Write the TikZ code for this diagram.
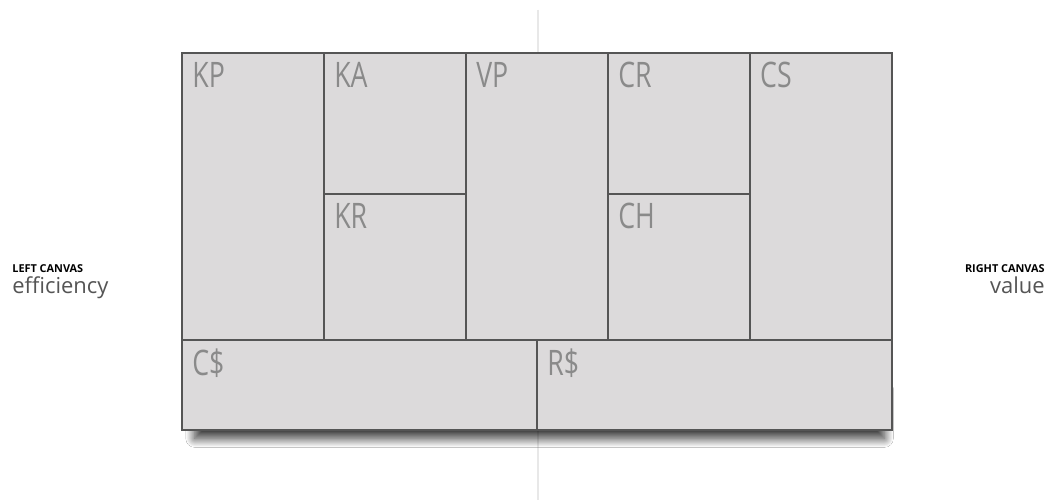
\documentclass[tikz,border=0pt]{standalone}
\usepackage{fontspec}
\setmainfont{Open Sans}
\newfontfamily\tagfont[FakeStretch=0.76]{Open Sans}
\usetikzlibrary{positioning,shadows.blur}
\definecolor{CellFill}  {HTML}{DCDADB}
\definecolor{CellLine}  {HTML}{555555}
\definecolor{TagText}   {HTML}{8A8A8A}
\definecolor{GuideLine} {HTML}{E8E8E8}
\definecolor{SideText}  {HTML}{555555}

\begin{document}
\begin{tikzpicture}[x=0.02cm,y=-0.02cm,
  cell/.style={draw=CellLine,fill=CellFill,line width=1.1pt,inner sep=0pt,
               outer sep=0pt,minimum width=2.84cm},
  tall/.style={cell,minimum height=5.74cm},
  upper/.style={cell,minimum height=2.82cm},
  lower/.style={cell,minimum height=2.92cm},
  base/.style={cell,minimum width=7.1cm,minimum height=1.8cm},
  tag/.style={anchor=north west,inner sep=0pt,text=TagText,
              font=\tagfont\fontsize{20}{20}\selectfont},
  heading/.style={inner sep=0pt,font=\bfseries\fontsize{6.2}{7}\selectfont},
  sub/.style={inner sep=0pt,text=SideText,font=\fontsize{12.5}{13}\selectfont},
  guide/.style={draw=GuideLine,line width=0.6pt}
]
  \fill[white] (0,0) rectangle (1049,503);
  \useasboundingbox (0,0) rectangle (1049,503);

  % guide line through the middle
  \coordinate (guidetop) at (538,10);
  \coordinate (guidebot) at (538,500);
  \draw[guide] (guidetop) -- (guidebot);

  % shadow under the canvas
  \node[inner sep=0pt,outer sep=0pt,anchor=north west,
        minimum width=13.8cm,minimum height=1cm,
        blur shadow={shadow xshift=1.5pt,shadow yshift=-6pt,
                     shadow blur radius=5pt,shadow blur steps=24,
                     shadow opacity=80}]
        (shade) at (192,378) {};

  % canvas
  \node[fill=CellFill,inner sep=0pt,outer sep=0pt,anchor=north west,
        minimum width=14.2cm,minimum height=7.54cm]
        (canvas) at (182,53) {};

  \node[tall,  below right=0pt and 0pt of canvas.north west] (kp) {};
  \node[upper, below right=0pt and 0pt of kp.north east]     (ka) {};
  \node[lower, below right=0pt and 0pt of ka.south west]     (kr) {};
  \node[tall,  below right=0pt and 0pt of ka.north east]     (vp) {};
  \node[upper, below right=0pt and 0pt of vp.north east]     (cr) {};
  \node[lower, below right=0pt and 0pt of cr.south west]     (ch) {};
  \node[tall,  below right=0pt and 0pt of cr.north east]     (cs) {};
  \node[base,  below right=0pt and 0pt of kp.south west]     (cost) {};
  \node[base,  below right=0pt and 0pt of cost.north east]   (rev) {};

  \foreach \c/\t in {kp/KP,ka/KA,kr/KR,vp/VP,cr/CR,ch/CH,cs/CS,cost/C\$,rev/R\$}
    \node[tag] at ([shift={(10,9)}]\c.north west) {\t};

  % side captions
  \node[heading,anchor=north west] (leftcap) at (12,264) {LEFT CANVAS};
  \node[sub,below right=2pt and 0pt of leftcap.south west] (lefttxt) {efficiency};
  \node[heading,anchor=north east] (rightcap) at (1045,264) {RIGHT CANVAS};
  \node[sub,below left=2pt and 0pt of rightcap.south east] (righttxt) {value};
\end{tikzpicture}
\end{document}
